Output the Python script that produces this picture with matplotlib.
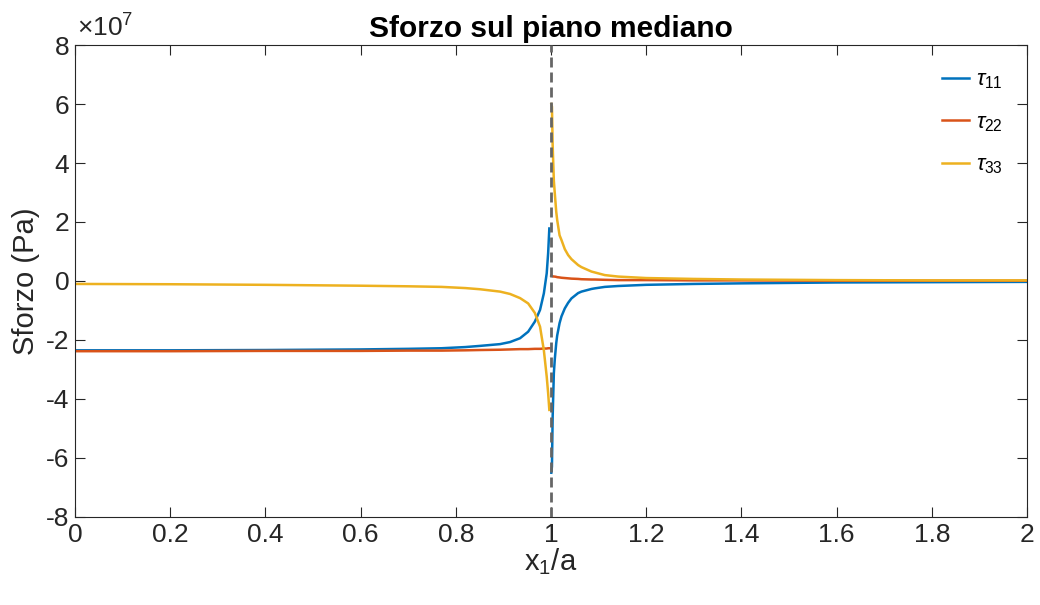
"""Sforzo sul piano mediano: tau11, tau22, tau33 lungo x1/a."""

import numpy as np
import matplotlib
matplotlib.use("Agg")
import matplotlib.pyplot as plt

plt.rcParams['font.family'] = ['Liberation Sans', 'DejaVu Sans']
plt.rcParams['mathtext.fontset'] = 'custom'
plt.rcParams['mathtext.it'] = 'Liberation Sans:italic'
plt.rcParams['mathtext.rm'] = 'Liberation Sans'

# Valori (sforzi in unita' di 1e7 Pa)
x_left = [0.0, 0.2, 0.4, 0.6, 0.7, 0.77, 0.82, 0.851, 0.893, 0.914, 0.935,
          0.952, 0.966, 0.977, 0.985, 0.991, 0.994, 0.9965]
t11_left = [-2.35, -2.35, -2.34, -2.32, -2.30, -2.28, -2.24, -2.20, -2.14,
            -2.07, -1.94, -1.72, -1.38, -0.98, -0.42, 0.26, 0.94, 1.78]
t22_left = [-2.38, -2.38, -2.37, -2.37, -2.36, -2.36, -2.35, -2.34, -2.33,
            -2.32, -2.31, -2.31, -2.30, -2.30, -2.29, -2.29, -2.28, -2.28]
t33_left = [-0.10, -0.11, -0.13, -0.16, -0.18, -0.20, -0.24, -0.28, -0.36,
            -0.44, -0.58, -0.76, -1.08, -1.55, -2.35, -3.24, -3.80, -4.37]

x_right = [1.0007, 1.002, 1.0035, 1.006, 1.008, 1.011, 1.013, 1.018, 1.022,
           1.029, 1.036, 1.043, 1.057, 1.064, 1.085, 1.092, 1.113, 1.141,
           1.2, 1.3, 1.4, 1.6, 1.8, 2.0]
t11_right = [-6.50, -6.29, -4.60, -3.13, -2.65, -2.11, -1.85, -1.43, -1.20,
             -0.93, -0.74, -0.59, -0.41, -0.36, -0.27, -0.25, -0.20, -0.17,
             -0.13, -0.10, -0.08, -0.05, -0.04, -0.03]
t22_right = [0.18, 0.17, 0.16, 0.15, 0.15, 0.14, 0.13, 0.12, 0.11,
             0.10, 0.09, 0.08, 0.07, 0.06, 0.05, 0.05, 0.04, 0.03,
             0.03, 0.02, 0.02, 0.01, 0.01, 0.01]
t33_right = [6.00, 5.91, 4.60, 3.40, 2.97, 2.35, 2.07, 1.55, 1.39,
             1.08, 0.88, 0.74, 0.54, 0.47, 0.32, 0.29, 0.20, 0.15,
             0.10, 0.07, 0.05, 0.03, 0.02, 0.02]

colors = ['#0072BD', '#D95319', '#EDB120']
labels = [r'$\tau_{11}$', r'$\tau_{22}$', r'$\tau_{33}$']
scale = 1e7
axcol = '#262626'

fig = plt.figure(figsize=(10.4, 6.05), dpi=100)
ax = fig.add_axes([0.0721, 0.1455, 0.9154, 0.7801])

series = [(t11_left, t11_right), (t22_left, t22_right), (t33_left, t33_right)]
for (yl, yr), c, lab in zip(series, colors, labels):
    ax.plot(x_left, np.array(yl) * scale, color=c, lw=1.8, label=lab)
    ax.plot(x_right, np.array(yr) * scale, color=c, lw=1.8)

ax.axvline(1.0, color='#666666', ls=(0, (3.6, 1.8)), lw=2.0, zorder=3)

ax.set_xlim(0, 2)
ax.set_ylim(-8e7, 8e7)
ax.set_xticks(np.arange(0, 2.01, 0.2))
ax.set_xticklabels(['0', '0.2', '0.4', '0.6', '0.8', '1', '1.2', '1.4',
                    '1.6', '1.8', '2'])
yt = np.arange(-8, 9, 2)
ax.set_yticks(yt * scale)
ax.set_yticklabels([str(v) for v in yt])

ax.tick_params(direction='in', length=7, width=0.8, top=True, right=True,
               labelsize=19, colors=axcol, pad=4)
for s in ax.spines.values():
    s.set_color(axcol)
    s.set_linewidth(0.8)

ax.set_title('Sforzo sul piano mediano', fontsize=21.5, fontweight='bold',
             pad=6)
ax.set_xlabel(r'x$_1$/a', fontsize=21, color=axcol, labelpad=0)
ax.set_ylabel('Sforzo (Pa)', fontsize=21, color=axcol, labelpad=4)
ax.text(0.002, 1.008, r'$\times10^{7}$', transform=ax.transAxes, fontsize=19,
        color=axcol, ha='left', va='bottom')

leg = ax.legend(loc='upper right', frameon=False, fontsize=16,
                handlelength=1.2, handletextpad=0.3, labelspacing=0.95,
                borderaxespad=0.7)

fig.savefig('out.png', dpi=100)
